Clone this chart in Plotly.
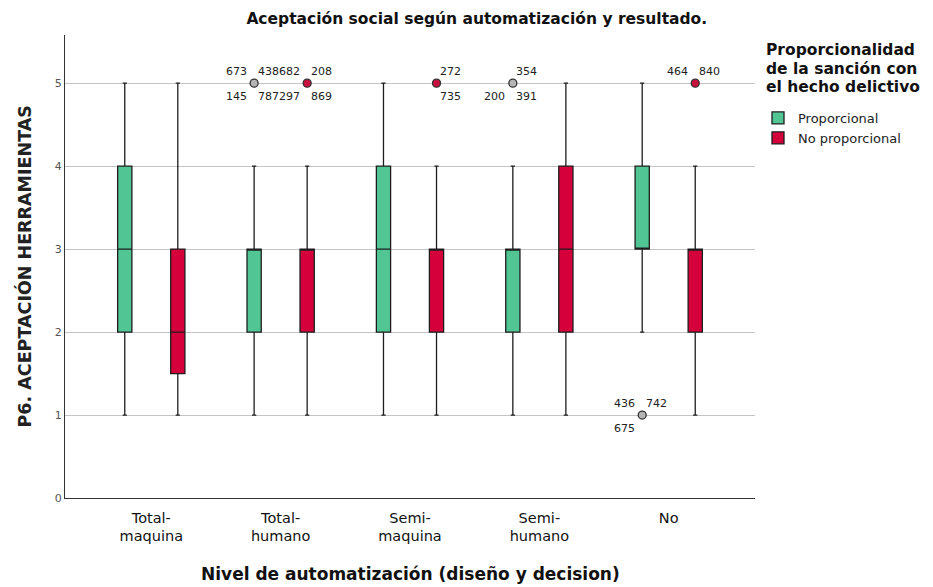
import plotly.graph_objects as go

# ---------------- data ----------------
categories = ["Total-maquina", "Total-humano", "Semi-maquina", "Semi-humano", "No"]
tick_labels = ["Total-<br>maquina", "Total-<br>humano", "Semi-<br>maquina", "Semi-<br>humano", "No"]
groups = ["Proporcional", "No proporcional"]
legend_title_lines = ["Proporcionalidad", "de la sanción con", "el hecho delictivo"]

prop_lower = [1, 1, 1, 1, 2]
prop_q1 = [2, 2, 2, 2, 3]
prop_median = [3, 3, 3, 3, 3]
prop_q3 = [4, 3, 4, 3, 4]
prop_upper = [5, 4, 5, 4, 5]

noprop_lower = [1, 1, 1, 1, 1]
noprop_q1 = [1.5, 2, 2, 2, 2]
noprop_median = [2, 3, 3, 3, 3]
noprop_q3 = [3, 3, 3, 4, 3]
noprop_upper = [5, 4, 4, 5, 4]

# outliers: category index, group index, value, labels (upper-left, upper-right, lower-left, lower-right)
out_cat = [1, 1, 2, 3, 4, 4]
out_group = [0, 1, 1, 0, 1, 0]
out_value = [5, 5, 5, 5, 5, 1]
out_labels = [
    ["673", "438", "145", "787"],
    ["682", "208", "297", "869"],
    ["", "272", "", "735"],
    ["", "354", "200", "391"],
    ["464", "840", "", ""],
    ["436", "742", "675", ""],
]

# ---------------- style ----------------
FONT = "DejaVu Sans"
colors = ["#52c595", "#d5003b"]
outlier_fill = ["#b4b4b4", "#c8103e"]
group_offset = [-0.205, 0.205]
box_width = 0.11

stats = [
    (prop_lower, prop_q1, prop_median, prop_q3, prop_upper),
    (noprop_lower, noprop_q1, noprop_median, noprop_q3, noprop_upper),
]

fig = go.Figure()

for g, name in enumerate(groups):
    lo, q1, med, q3, hi = stats[g]
    xs = [i + group_offset[g] for i in range(len(categories))]
    fig.add_trace(go.Box(
        x=xs, q1=q1, median=med, q3=q3, lowerfence=lo, upperfence=hi,
        name=name, width=box_width, whiskerwidth=0.3,
        fillcolor=colors[g], line=dict(color="#1e1e1e", width=1.3),
        boxpoints=False, hoverinfo="skip",
    ))

for k in range(len(out_cat)):
    g = out_group[k]
    x = out_cat[k] + group_offset[g]
    y = out_value[k]
    fig.add_trace(go.Scatter(
        x=[x], y=[y], mode="markers", showlegend=False, hoverinfo="skip",
        marker=dict(size=8, color=outlier_fill[g], line=dict(color="#333333", width=1.3)),
    ))
    shifts = [(-18, 12), (14, 12), (-18, -13), (14, -13)]
    for lab, (dx, dy) in zip(out_labels[k], shifts):
        if lab:
            fig.add_annotation(x=x, y=y, text=lab, showarrow=False, xshift=dx, yshift=dy,
                               font=dict(family=FONT, size=11, color="#222222"))

# y-axis title
fig.add_annotation(xref="paper", yref="paper", x=-0.058, y=0.5, xanchor="center", yanchor="middle",
                   text="<b>P6. ACEPTACIÓN HERRAMIENTAS</b>", textangle=-90, showarrow=False,
                   font=dict(family=FONT, size=17.5, color="#222222"))

# x-axis title
fig.add_annotation(xref="paper", yref="paper", x=0.5, y=(498 - 574) / 463, xanchor="center", yanchor="middle",
                   text="<b>Nivel de automatización (diseño y decision)</b>", showarrow=False,
                   font=dict(family=FONT, size=17, color="#111111"))

# legend title lines (tight line spacing)
for j, line in enumerate(legend_title_lines):
    py = 50 + 18.5 * j
    fig.add_annotation(xref="paper", yref="paper", x=(764 - 65) / 690, y=(498 - py) / 463,
                       xanchor="left", yanchor="middle", text="<b>%s</b>" % line, showarrow=False,
                       font=dict(family=FONT, size=15.5, color="#111111"))

fig.update_layout(
    width=933, height=587, autosize=False,
    margin=dict(l=65, r=178, t=35, b=89, autoexpand=False),
    plot_bgcolor="white", paper_bgcolor="white",
    font=dict(family=FONT, color="#222222"),
    title=dict(text="<b>Aceptación social según automatización y resultado.</b>",
               xref="container", x=0.511, xanchor="center", y=0.969, yanchor="middle",
               font=dict(family=FONT, size=15.5, color="#111111")),
    xaxis=dict(range=[-0.667, 4.667], tickmode="array", tickvals=list(range(len(categories))),
               ticktext=tick_labels, showgrid=False, zeroline=False, showline=True,
               linecolor="#333333", linewidth=1.3, ticks="", ticklabelstandoff=6,
               automargin=False,
               tickfont=dict(family=FONT, size=14.5, color="#111111")),
    yaxis=dict(range=[0, 5.58], tickmode="array", tickvals=[0, 1, 2, 3, 4, 5],
               showgrid=True, gridcolor="#c4c4c4", gridwidth=1, zeroline=False,
               showline=True, linecolor="#333333", linewidth=1.3, ticks="",
               automargin=False,
               tickfont=dict(family=FONT, size=11, color="#555555")),
    legend=dict(x=(758 - 65) / 690, xanchor="left", y=(498 - 103) / 463, yanchor="top",
                font=dict(family=FONT, size=13, color="#222222"),
                bgcolor="rgba(0,0,0,0)", tracegroupgap=0, itemwidth=30),
    showlegend=True,
)

fig.write_html("out.html")
